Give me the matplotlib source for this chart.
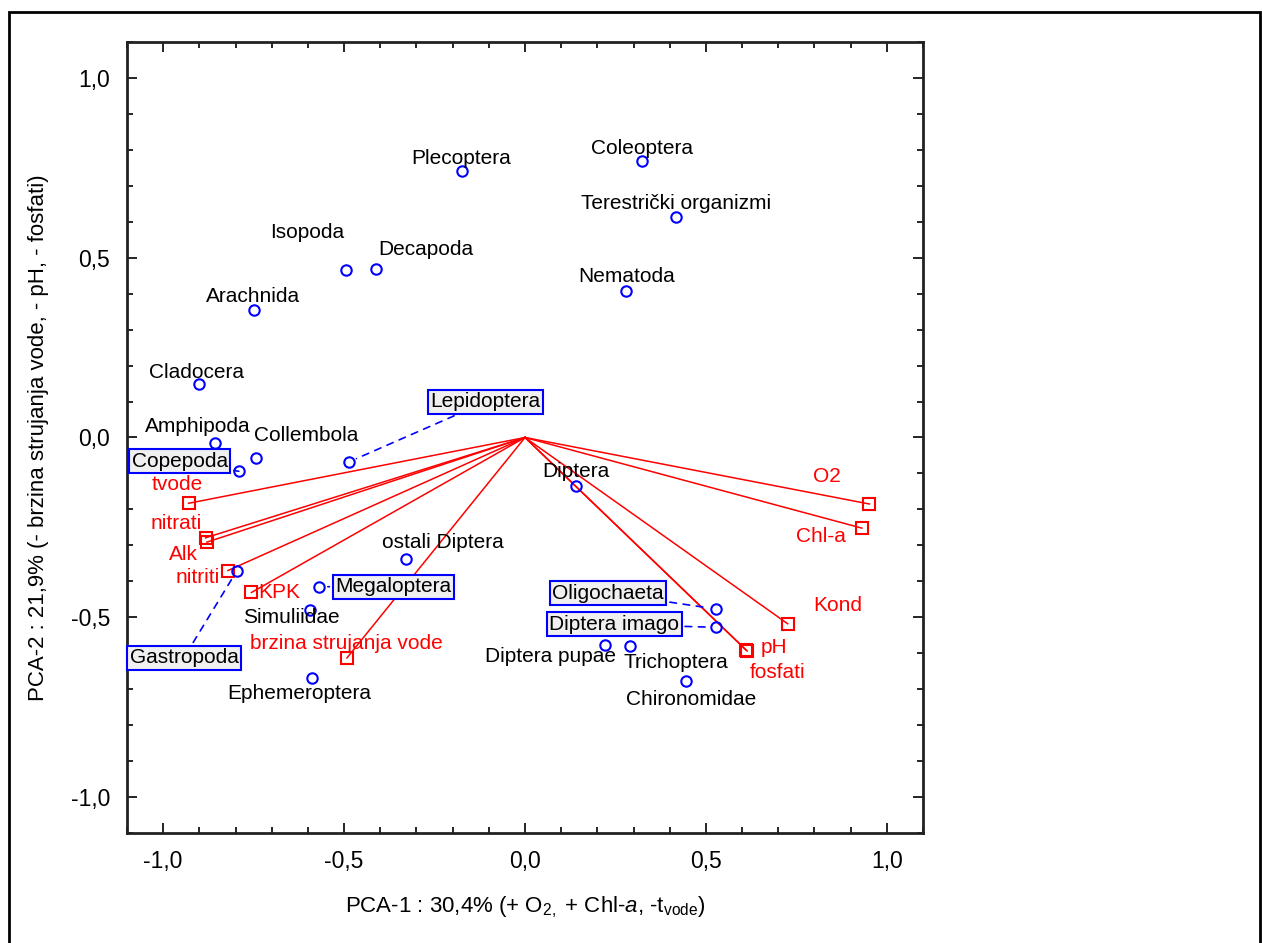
import matplotlib
matplotlib.use("Agg")
import matplotlib.pyplot as plt
from matplotlib.ticker import MultipleLocator, FuncFormatter
from matplotlib.patches import Rectangle

plt.rcParams['font.family'] = ['Liberation Sans', 'DejaVu Sans']
plt.rcParams['mathtext.fontset'] = 'custom'
plt.rcParams['mathtext.rm'] = 'Liberation Sans'
plt.rcParams['mathtext.it'] = 'Liberation Sans:italic'

# species scores (PCA-1, PCA-2)
species = ['Plecoptera', 'Coleoptera', 'Terestrički organizmi', 'Isopoda', 'Decapoda',
           'Nematoda', 'Arachnida', 'Cladocera', 'Amphipoda', 'Collembola', 'Copepoda',
           'Lepidoptera', 'Diptera', 'ostali Diptera', 'Megaloptera', 'Simuliidae',
           'Gastropoda', 'Ephemeroptera', 'Oligochaeta', 'Diptera imago', 'Diptera pupae',
           'Trichoptera', 'Chironomidae']
sp_x = [-0.173, 0.324, 0.418, -0.494, -0.411, 0.280, -0.749, -0.902, -0.858, -0.743, -0.791,
        -0.487, 0.141, -0.330, -0.568, -0.593, -0.796, -0.588, 0.528, 0.528, 0.220,
        0.291, 0.445]
sp_y = [0.741, 0.769, 0.614, 0.465, 0.469, 0.407, 0.354, 0.148, -0.016, -0.056, -0.094,
        -0.068, -0.134, -0.338, -0.415, -0.479, -0.370, -0.669, -0.477, -0.528, -0.577,
        -0.581, -0.676]

# environmental variables (vector tips)
env = ['tvode', 'nitrati', 'Alk', 'nitriti', 'KPK', 'brzina strujanja vode',
       'O2', 'Chl-a', 'Kond', 'pH', 'fosfati']
env_x = [-0.930, -0.883, -0.879, -0.821, -0.756, -0.492, 0.952, 0.931, 0.726, 0.611, 0.614]
env_y = [-0.183, -0.279, -0.291, -0.370, -0.431, -0.613, -0.185, -0.252, -0.518, -0.591, -0.594]

# label placement (offset in pixels from the point)
sp_off = {'Plecoptera': (-1, 13), 'Coleoptera': (0, 13), 'Terestrički organizmi': (0, 13),
          'Isopoda': (-39, 38), 'Decapoda': (50, 19), 'Nematoda': (0, 15),
          'Arachnida': (-1, 14), 'Cladocera': (-2, 12), 'Amphipoda': (-17, 17),
          'Collembola': (50, 22), 'Copepoda': (-59, 10), 'Lepidoptera': (137, 60),
          'Diptera': (0, 14), 'ostali Diptera': (37, 17), 'Megaloptera': (74, 0),
          'Simuliidae': (-19, -8), 'Gastropoda': (-53, -87), 'Ephemeroptera': (-13, -15),
          'Oligochaeta': (-108, 16), 'Diptera imago': (-102, 3), 'Diptera pupae': (-54, -12),
          'Trichoptera': (46, -16), 'Chironomidae': (5, -19)}
boxed = ['Copepoda', 'Lepidoptera', 'Megaloptera', 'Gastropoda', 'Oligochaeta', 'Diptera imago']
env_off = {'tvode': (-11, 19), 'nitrati': (-29, 14), 'Alk': (-24, -12), 'nitriti': (-30, -7),
           'KPK': (28, 0), 'brzina strujanja vode': (-1, 14), 'O2': (-43, 28),
           'Chl-a': (-41, -8), 'Kond': (50, 18), 'pH': (28, 2), 'fosfati': (30, -21)}

fig = plt.figure(figsize=(12.62, 9.43), dpi=100)
fig.patches.append(Rectangle((9 / 1262, -0.01), 1251 / 1262, 1 - 12 / 943 + 0.01,
                             transform=fig.transFigure, fill=False, ec='black', lw=2))
ax = fig.add_axes([127 / 1262, 1 - 833 / 943, 796 / 1262, 791 / 943])

for x, y in zip(env_x, env_y):
    ax.plot([0, x], [0, y], color='red', lw=1.1)
ax.plot(env_x, env_y, 's', ms=9, mfc='none', mec='red', mew=1.5)
for name, x, y in zip(env, env_x, env_y):
    ax.annotate(name, (x, y), xytext=env_off[name], textcoords='offset pixels',
                ha='center', va='center', color='red', fontsize=15)

ax.plot(sp_x, sp_y, 'o', ms=7.5, mfc='none', mec='blue', mew=1.5)
for name, x, y in zip(species, sp_x, sp_y):
    if name in boxed:
        ax.annotate(name, (x, y), xytext=sp_off[name], textcoords='offset pixels',
                    ha='center', va='center', color='black', fontsize=15,
                    bbox=dict(boxstyle='square,pad=0.12', fc='#f0f0f0', ec='blue', lw=1.5),
                    arrowprops=dict(arrowstyle='-', ls=(0, (4, 4)), color='blue', lw=1.2,
                                    shrinkA=2, shrinkB=6))
    else:
        ax.annotate(name, (x, y), xytext=sp_off[name], textcoords='offset pixels',
                    ha='center', va='center', color='black', fontsize=15)

ax.set_xlim(-1.1, 1.1)
ax.set_ylim(-1.1, 1.1)
ax.xaxis.set_major_locator(MultipleLocator(0.5))
ax.yaxis.set_major_locator(MultipleLocator(0.5))
ax.xaxis.set_minor_locator(MultipleLocator(0.1))
ax.yaxis.set_minor_locator(MultipleLocator(0.1))
fmt = FuncFormatter(lambda v, p: f'{v:.1f}'.replace('.', ',').replace('-0,0', '0,0'))
ax.xaxis.set_major_formatter(fmt)
ax.yaxis.set_major_formatter(fmt)
ax.tick_params(which='both', direction='in', top=True, right=True, labelsize=16.5, width=1.2)
ax.tick_params(which='major', length=7)
ax.tick_params(which='minor', length=4)
ax.tick_params(axis='x', pad=12)
ax.tick_params(axis='y', pad=12)
for s in ax.spines.values():
    s.set_linewidth(2)
    s.set_color('#222222')

ax.set_xlabel('PCA-1 : 30,4% (+ O$_{2,}$ + Chl-$a$, -t$_{\\mathrm{vode}}$)', fontsize=16, labelpad=16)
ax.set_ylabel('PCA-2 : 21,9% (- brzina strujanja vode, - pH, - fosfati)', fontsize=16, labelpad=16)

fig.savefig('out.png', dpi=100)
